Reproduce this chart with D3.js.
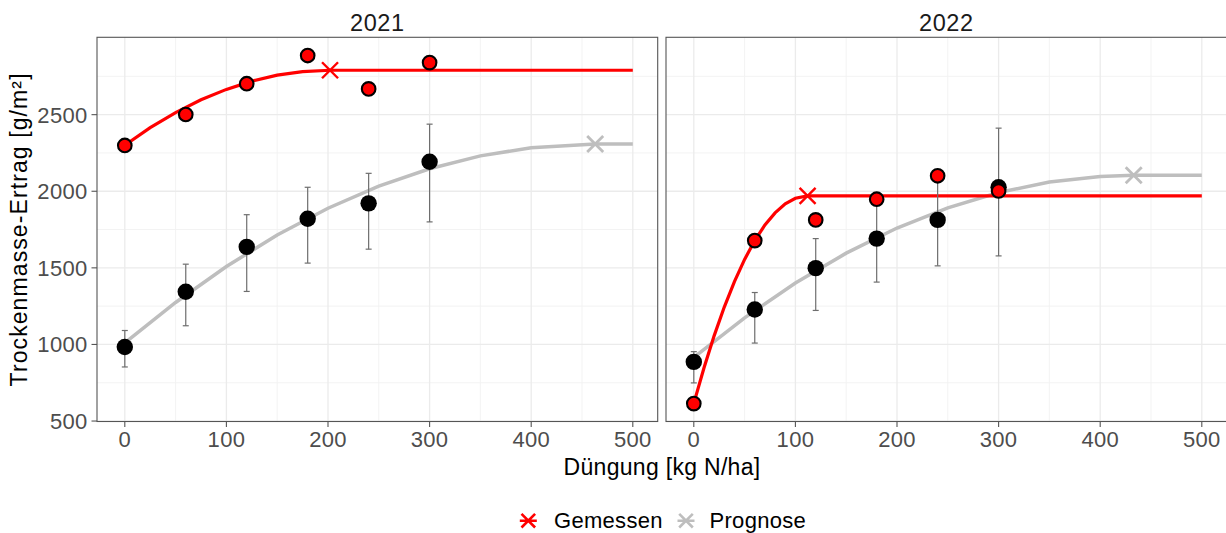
<!DOCTYPE html>
<html>
<head>
<meta charset="utf-8">
<script src="https://cdn.jsdelivr.net/npm/d3@7"></script>
<style>
  body { margin: 0; background: #fff; }
  svg text { font-family: "Liberation Sans", Arial, sans-serif; }
</style>
</head>
<body>
<div id="chart"></div>
<script>
// Messwerte und Prognose je Düngungsstufe
const years = ["2021", "2022"];
const doses = [0, 60, 120, 180, 240, 300];
const xTicks = [0, 100, 200, 300, 400, 500];
const yTicks = [500, 1000, 1500, 2000, 2500];

const measured2021 = [2299, 2501, 2702, 2886, 2668, 2840];
const forecast2021 = [983, 1344, 1637, 1821, 1921, 2193];
const forecastLo2021 = [853, 1122, 1346, 1531, 1622, 1800];
const forecastHi2021 = [1091, 1524, 1847, 2026, 2117, 2438];

const measured2022 = [614, 1678, 1813, 1948, 2101, 2002];
const forecast2022 = [886, 1228, 1498, 1691, 1813, 2026];
const forecastLo2022 = [749, 1009, 1222, 1407, 1513, 1578];
const forecastHi2022 = [953, 1339, 1691, 1950, 2115, 2412];

// Kurven
const gemCurveX2021 = [0, 25, 50, 75, 100, 125, 150, 175, 202, 500];
const gemCurveY2021 = [2300, 2415, 2513, 2597, 2665, 2719, 2758, 2781, 2790, 2790];
const progCurveX2021 = [0, 50, 100, 150, 200, 250, 300, 350, 400, 463, 500];
const progCurveY2021 = [1010, 1274, 1509, 1714, 1889, 2033, 2147, 2231, 2284, 2308, 2308];

const gemCurveX2022 = [0, 10, 20, 30, 40, 50, 60, 70, 80, 90, 100, 112, 500];
const gemCurveY2022 = [615, 846, 1056, 1244, 1410, 1555, 1678, 1780, 1859, 1918, 1954, 1970, 1970];
const progCurveX2022 = [0, 50, 100, 150, 200, 250, 300, 350, 400, 433, 500];
const progCurveY2022 = [915, 1174, 1401, 1596, 1760, 1892, 1992, 2060, 2097, 2104, 2104];

// Optimum (Kreuz)
const optGemX = [202, 112];
const optGemY = [2790, 1970];
const optProgX = [463, 433];
const optProgY = [2308, 2104];

const panels = years.map((year, i) => ({
    year: year,
    measured: i === 0 ? measured2021 : measured2022,
    forecast: i === 0 ? forecast2021 : forecast2022,
    lo: i === 0 ? forecastLo2021 : forecastLo2022,
    hi: i === 0 ? forecastHi2021 : forecastHi2022,
    gemCurve: d3.zip(i === 0 ? gemCurveX2021 : gemCurveX2022, i === 0 ? gemCurveY2021 : gemCurveY2022),
    progCurve: d3.zip(i === 0 ? progCurveX2021 : progCurveX2022, i === 0 ? progCurveY2021 : progCurveY2022),
    optGem: [optGemX[i], optGemY[i]],
    optProg: [optProgX[i], optProgY[i]]
}));

const RED = "#FF0000";
const GREY = "#BEBEBE";

const width = 1226, height = 533;
const panelW = 560.7, panelH = 384.2, panelTop = 37.3;
const panelLeft = [97, 666];

const svg = d3.select("#chart").append("svg")
    .attr("width", width)
    .attr("height", height);

const x = d3.scaleLinear().domain([0, 500]).range([27.8, 27.8 + 508]);
const y = d3.scaleLinear().domain([497, 3005]).range([panelH, 0]);

function cross(g, cx, cy, size, color, sw) {
    const h = size / 2;
    g.append("path")
        .attr("d", `M${cx - h},${cy - h}L${cx + h},${cy + h}M${cx - h},${cy + h}L${cx + h},${cy - h}`)
        .attr("stroke", color)
        .attr("stroke-width", sw)
        .attr("fill", "none");
}

const line = d3.line().x(d => x(d[0])).y(d => y(d[1]));

panels.forEach((p, i) => {
    const g = svg.append("g")
        .attr("transform", `translate(${panelLeft[i]}, ${panelTop})`);

    // Gitter
    const minorX = d3.range(50, 550, 100);
    const minorY = d3.range(750, 3000, 500);
    g.selectAll(".minor-x").data(minorX).enter().append("line")
        .attr("x1", d => x(d)).attr("x2", d => x(d))
        .attr("y1", 0).attr("y2", panelH)
        .attr("stroke", "#F2F2F2").attr("stroke-width", 0.9);
    g.selectAll(".minor-y").data(minorY).enter().append("line")
        .attr("x1", 0).attr("x2", panelW)
        .attr("y1", d => y(d)).attr("y2", d => y(d))
        .attr("stroke", "#F2F2F2").attr("stroke-width", 0.9);
    g.selectAll(".major-x").data(xTicks).enter().append("line")
        .attr("x1", d => x(d)).attr("x2", d => x(d))
        .attr("y1", 0).attr("y2", panelH)
        .attr("stroke", "#EBEBEB").attr("stroke-width", 1.3);
    g.selectAll(".major-y").data(yTicks).enter().append("line")
        .attr("x1", 0).attr("x2", panelW)
        .attr("y1", d => y(d)).attr("y2", d => y(d))
        .attr("stroke", "#EBEBEB").attr("stroke-width", 1.3);

    // Kurven
    g.append("path").datum(p.progCurve)
        .attr("d", line)
        .attr("fill", "none").attr("stroke", GREY).attr("stroke-width", 3.5);
    g.append("path").datum(p.gemCurve)
        .attr("d", line)
        .attr("fill", "none").attr("stroke", RED).attr("stroke-width", 3.2);

    // Fehlerbalken
    const bars = doses.map((d, k) => ({ x: d, lo: p.lo[k], hi: p.hi[k] }));
    const eb = g.selectAll(".errbar").data(bars).enter().append("g")
        .attr("stroke", "#6E6E6E").attr("stroke-width", 1.2);
    eb.append("line")
        .attr("x1", d => x(d.x)).attr("x2", d => x(d.x))
        .attr("y1", d => y(d.lo)).attr("y2", d => y(d.hi));
    eb.append("line")
        .attr("x1", d => x(d.x) - 3).attr("x2", d => x(d.x) + 3)
        .attr("y1", d => y(d.lo)).attr("y2", d => y(d.lo));
    eb.append("line")
        .attr("x1", d => x(d.x) - 3).attr("x2", d => x(d.x) + 3)
        .attr("y1", d => y(d.hi)).attr("y2", d => y(d.hi));

    // Punkte
    g.selectAll(".pt-prog").data(doses).enter().append("circle")
        .attr("cx", d => x(d))
        .attr("cy", (d, k) => y(p.forecast[k]))
        .attr("r", 8.2)
        .attr("fill", "#000");
    g.selectAll(".pt-gem").data(doses).enter().append("circle")
        .attr("cx", d => x(d))
        .attr("cy", (d, k) => y(p.measured[k]))
        .attr("r", 6.8)
        .attr("fill", RED)
        .attr("stroke", "#000")
        .attr("stroke-width", 2.1);

    // Optimum
    cross(g, x(p.optGem[0]), y(p.optGem[1]), 16, RED, 2.4);
    cross(g, x(p.optProg[0]), y(p.optProg[1]), 16, GREY, 2.8);

    // Rahmen
    g.append("rect")
        .attr("x", 0).attr("y", 0)
        .attr("width", panelW).attr("height", panelH)
        .attr("fill", "none").attr("stroke", "#555").attr("stroke-width", 1.1);

    // x-Achse
    const xAxis = g.append("g").attr("transform", `translate(0, ${panelH})`);
    xAxis.selectAll("line").data(xTicks).enter().append("line")
        .attr("x1", d => x(d)).attr("x2", d => x(d))
        .attr("y1", 0).attr("y2", 5.5)
        .attr("stroke", "#555").attr("stroke-width", 1.1);
    xAxis.selectAll("text").data(xTicks).enter().append("text")
        .attr("x", d => x(d))
        .attr("y", 25.4)
        .attr("text-anchor", "middle")
        .style("font-size", "22px")
        .style("letter-spacing", "0.3px")
        .style("fill", "#4D4D4D")
        .text(d => d);

    // y-Achse nur links
    if (i === 0) {
        const yAxis = g.append("g");
        yAxis.selectAll("line").data(yTicks).enter().append("line")
            .attr("x1", -5.5).attr("x2", 0)
            .attr("y1", d => y(d)).attr("y2", d => y(d))
            .attr("stroke", "#555").attr("stroke-width", 1.1);
        yAxis.selectAll("text").data(yTicks).enter().append("text")
            .attr("x", -9.5)
            .attr("y", d => y(d))
            .attr("dy", "0.36em")
            .attr("text-anchor", "end")
            .style("font-size", "22px")
            .style("letter-spacing", "0.3px")
            .style("fill", "#4D4D4D")
            .text(d => d);
    }

    // Streifen-Titel
    svg.append("text")
        .attr("x", panelLeft[i] + panelW / 2)
        .attr("y", 30.5)
        .attr("text-anchor", "middle")
        .style("font-size", "23.5px")
        .style("letter-spacing", "0.6px")
        .style("fill", "#1A1A1A")
        .text(p.year);
});

// Achsentitel
svg.append("text")
    .attr("x", 662)
    .attr("y", 475)
    .attr("text-anchor", "middle")
    .style("font-size", "23px")
    .style("letter-spacing", "0.3px")
    .text("Düngung [kg N/ha]");

svg.append("text")
    .attr("transform", `translate(27, ${panelTop + panelH / 2}) rotate(-90)`)
    .attr("text-anchor", "middle")
    .style("font-size", "23px")
    .style("letter-spacing", "1.1px")
    .text("Trockenmasse-Ertrag [g/m²]");

// Legende
const legendItems = [
    { label: "Gemessen", color: RED, cx: 528.3, tx: 554 },
    { label: "Prognose", color: GREY, cx: 686, tx: 709.5 }
];
legendItems.forEach(item => {
    const lg = svg.append("g");
    const h = 8.5, cy = 520.7;
    lg.append("path")
        .attr("d", `M${item.cx - h},${cy}L${item.cx + h},${cy}M${item.cx - h * 0.8},${cy - h * 0.8}L${item.cx + h * 0.8},${cy + h * 0.8}M${item.cx - h * 0.8},${cy + h * 0.8}L${item.cx + h * 0.8},${cy - h * 0.8}`)
        .attr("stroke", item.color)
        .attr("stroke-width", 2.6)
        .attr("fill", "none");
    lg.append("text")
        .attr("x", item.tx)
        .attr("y", 528)
        .style("font-size", "22px")
        .style("letter-spacing", "0.3px")
        .text(item.label);
});
</script>
</body>
</html>
